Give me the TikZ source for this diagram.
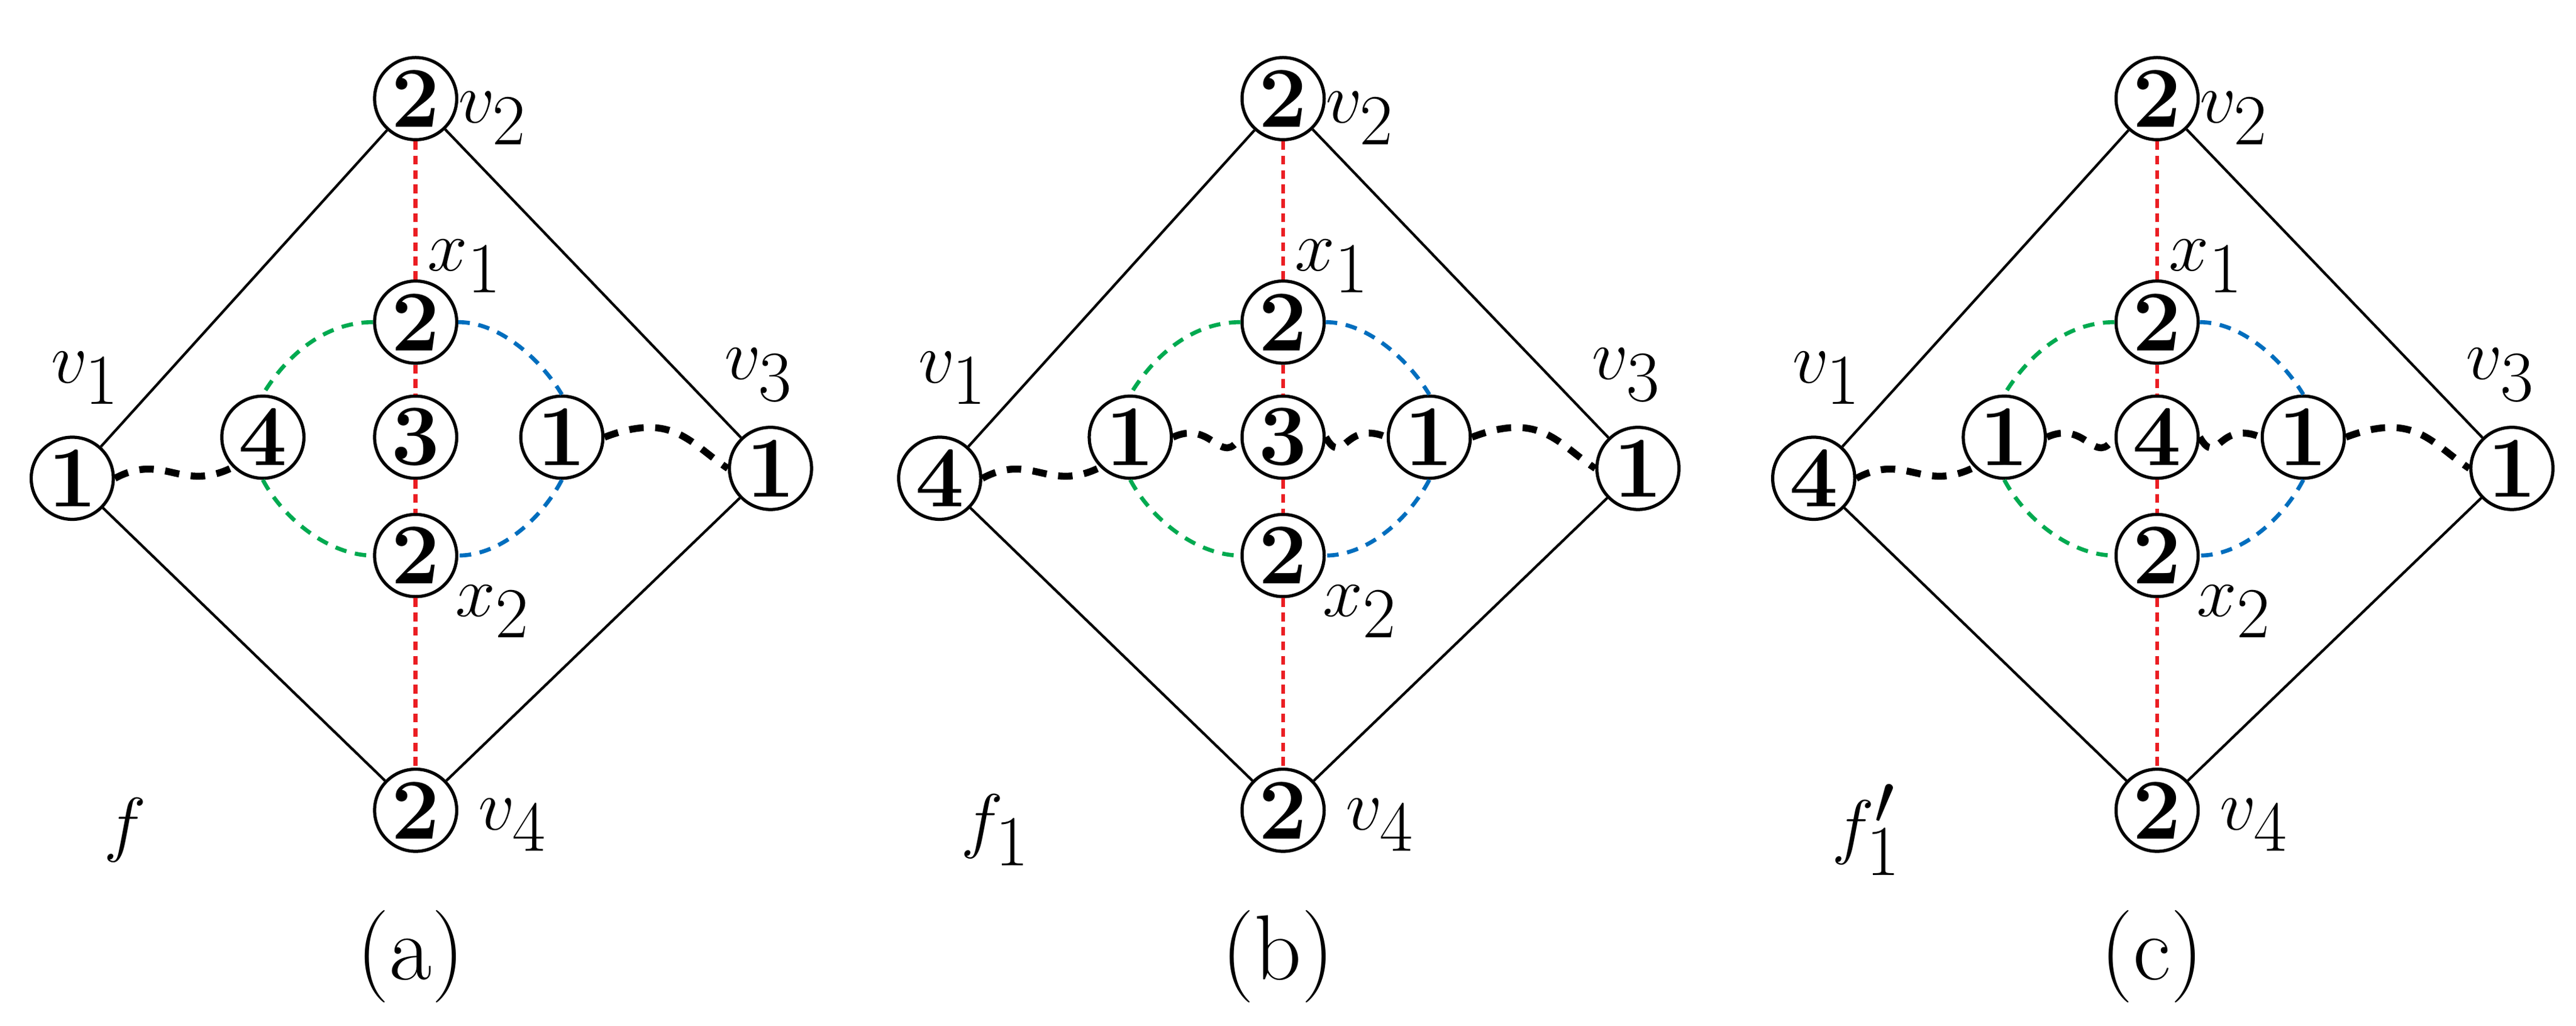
\documentclass[tikz,border=0pt]{standalone}
\newcommand{\lab}[2]{\fontsize{38}{38}\selectfont$#1_{#2}$}
\begin{document}
\begin{tikzpicture}[x=0.02cm,y=-0.02cm,
  vtx/.style={circle,draw,line width=1.1pt,minimum size=1cm,inner sep=0pt,font=\fontsize{30}{30}\selectfont\bfseries},
  edg/.style={line width=0.9pt},
  red/.style={draw={rgb,255:red,235;green,30;blue,35},line width=1.4pt,dash pattern=on 3pt off 2pt},
  grn/.style={draw={rgb,255:red,0;green,170;blue,80},line width=1.4pt,dash pattern=on 4pt off 3pt},
  blu/.style={draw={rgb,255:red,0;green,110;blue,190},line width=1.4pt,dash pattern=on 4pt off 3pt},
  blk/.style={draw=black,line width=2.4pt,dash pattern=on 5pt off 4pt},
  lbl/.style={inner sep=0pt}]
\useasboundingbox (0,0) rectangle (1568,624);
\foreach \p/\o/\a/\l/\c/\r/\cap in {a/0/1/4/3/1/a, b/528/4/1/3/1/b, c/1060/4/1/4/1/c}{
 \begin{scope}[xshift=\o*0.02cm]
  \node[vtx] (\p v2) at (253,60) {2};
  \node[vtx] (\p x1) at (253,196) {2};
  \node[vtx] (\p m) at (253,266) {\c};
  \node[vtx] (\p x2) at (253,338) {2};
  \node[vtx] (\p v4) at (253,493) {2};
  \node[vtx] (\p v1) at (44,291) {\a};
  \node[vtx] (\p l) at (160,266) {\l};
  \node[vtx] (\p r) at (342,266) {\r};
  \node[vtx] (\p v3) at (469,285) {1};
  \draw[edg] (\p v1) -- (\p v2) -- (\p v3) -- (\p v4) -- (\p v1);
  \draw[red] (\p v2) -- (\p x1) -- (\p m) -- (\p x2) -- (\p v4);
  \draw[grn] (\p x1.west) .. controls (195,196) and (172,220) .. (\p l.north);
  \draw[grn] (\p l.south) .. controls (172,315) and (200,338) .. (\p x2.west);
  \draw[blu] (\p x1.east) .. controls (305,196) and (330,220) .. (\p r.north);
  \draw[blu] (\p r.south) .. controls (330,315) and (305,338) .. (\p x2.east);
  \draw[blk] (\p v1.east) .. controls (100,275) and (110,300) .. (\p l.south west);
  \draw[blk] (\p r.east) .. controls (410,250) and (420,270) .. (\p v3.west);
  \node[lbl] at (300,72) {\lab{v}{2}};
  \node[lbl] at (283,162) {\lab{x}{1}};
  \node[lbl] at (52,230) {\lab{v}{1}};
  \node[lbl] at (462,228) {\lab{v}{3}};
  \node[lbl] at (300,372) {\lab{x}{2}};
  \node[lbl] at (312,502) {\lab{v}{4}};
  \node[lbl] at (250,582) {\fontsize{32}{32}\selectfont(\cap)};
 \end{scope}}
\node[lbl] at (76,505) {\fontsize{38}{38}\selectfont$f$};
\node[lbl] at (606,505) {\lab{f}{1}};
\node[lbl] at (1136,505) {\fontsize{38}{38}\selectfont$f_1'$};
\foreach \p/\o in {b/528,c/1060}{
 \begin{scope}[xshift=\o*0.02cm]
  \draw[blk] (\p l.east) .. controls (210,255) and (215,285) .. (\p m.west);
  \draw[blk] (\p m.east) .. controls (290,285) and (290,255) .. (\p r.west);
 \end{scope}}
\end{tikzpicture}
\end{document}
